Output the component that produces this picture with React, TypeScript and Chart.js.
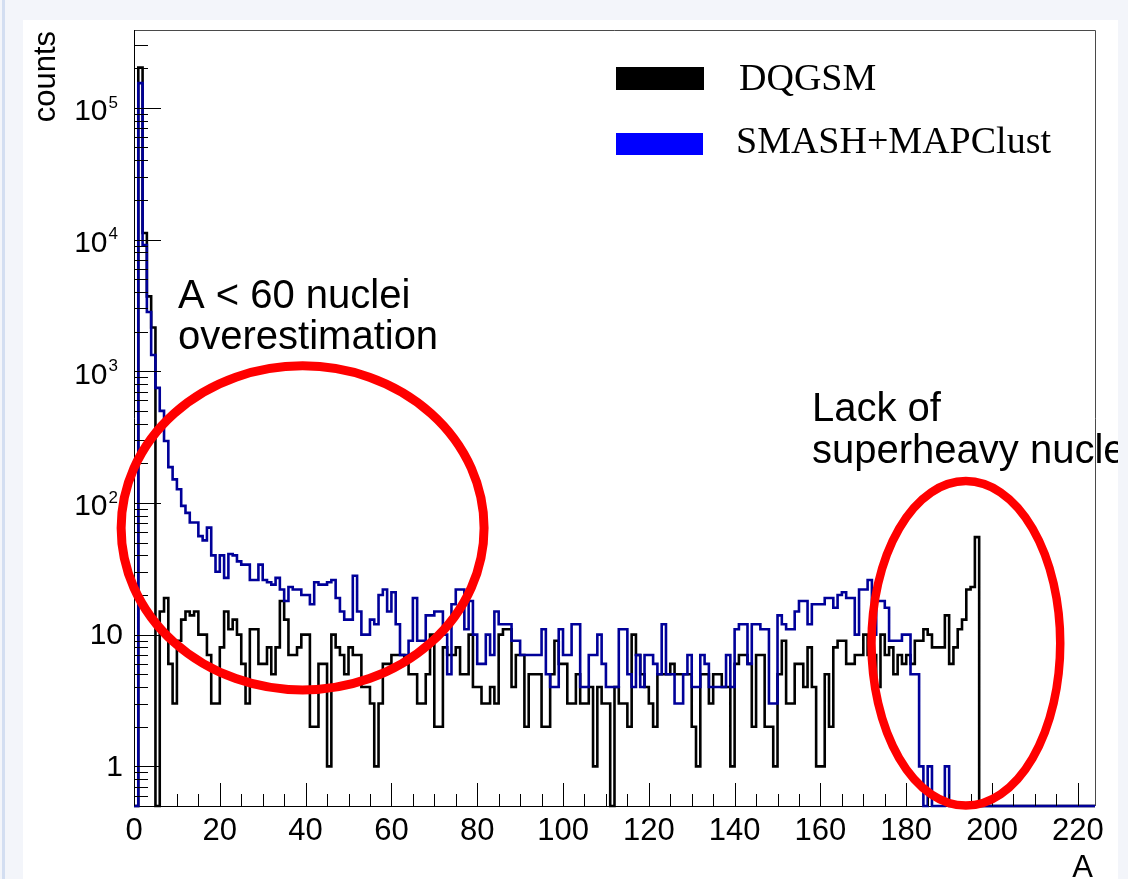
import React, { useEffect, useRef } from "react";
import { Chart, registerables } from "chart.js";

Chart.register(...registerables);

// ---------------- data ----------------
const BIN_LOW = 0; // lower edge of first bin (A)
const BIN_WIDTH = 1; // bin width (A)
const X_MIN = 0;
const X_MAX = 224;
const Y_MIN = 0.5;
const Y_MAX = 3.9e5;

// DQGSM counts per bin of A (bins [0,1), [1,2), ...)
const dqgsmCounts = [
  0, 202000, 11200, 3700, 2150, 0, 15, 19, 6, 3,
  9, 13, 15, 14, 15, 10, 10, 7, 3, 3,
  8, 15, 11, 13, 10, 6, 3, 11, 11, 6,
  6, 8, 5, 8, 18, 13, 7, 7, 8, 10,
  10, 2, 2, 6, 6, 1, 10, 8, 7, 5,
  8, 7, 7, 4, 4, 3, 1, 3, 6, 6,
  7, 7, 7, 6, 5, 5, 3, 3, 5, 10,
  2, 2, 8, 7, 7, 8, 5, 5, 10, 4,
  4, 3, 3, 4, 3, 10, 11, 11, 4, 7,
  7, 2, 5, 5, 5, 2, 2, 5, 9, 6,
  6, 3, 3, 5, 3, 3, 4, 1, 4, 3,
  3, 0, 4, 3, 3, 2, 10, 7, 5, 4,
  3, 2, 5, 5, 5, 6, 5, 5, 5, 5,
  2, 1, 5, 5, 3, 5, 5, 4, 4, 1,
  6, 7, 7, 6, 2, 7, 7, 2, 2, 1,
  5, 9, 3, 3, 6, 6, 4, 8, 4, 1,
  1, 5, 2, 8, 9, 9, 6, 6, 7, 7,
  10, 7, 7, 4, 10, 7, 8, 5, 7, 6,
  7, 6, 9, 9, 11, 10, 8, 8, 8, 14,
  6, 8, 11, 13, 22, 23, 55, 0, 0, 0,
  0, 0, 0, 0, 0, 0, 0, 0, 0, 0,
  0, 0, 0, 0, 0, 0, 0, 0, 0, 0,
  0, 0, 0, 0,
];

// SMASH+MAPClust counts per bin of A
const smashCounts = [
  0, 154000, 9100, 2820, 1330, 748, 500, 295, 187, 151,
  127, 95, 84, 71, 71, 56, 52, 65, 40, 30,
  40, 27, 41, 40, 36, 34, 34, 26, 26, 34,
  26, 25, 24, 27, 22, 18, 23, 22, 22, 20,
  20, 17, 25, 24, 24, 25, 26, 19, 15, 13,
  13, 28, 15, 10, 10, 13, 12, 20, 22, 15,
  21, 12, 7, 7, 9, 19, 9, 9, 14, 14,
  15, 15, 10, 5, 17, 22, 22, 11, 18, 10,
  6, 6, 10, 7, 15, 12, 12, 12, 9, 9,
  7, 7, 7, 7, 7, 11, 5, 4, 4, 11,
  7, 7, 12, 12, 4, 4, 7, 7, 10, 6,
  4, 4, 4, 11, 11, 5, 4, 7, 4, 7,
  7, 6, 5, 12, 5, 5, 3, 3, 5, 7,
  4, 4, 7, 6, 4, 4, 4, 4, 7, 4,
  11, 12, 12, 6, 12, 12, 11, 11, 3, 3,
  14, 12, 11, 11, 15, 18, 18, 12, 17, 17,
  17, 19, 19, 16, 20, 21, 19, 19, 10, 22,
  22, 26, 10, 18, 18, 16, 9, 9, 9, 10,
  10, 5, 5, 1, 0, 1, 0, 0, 0, 1,
  0, 0, 0, 0, 0, 0, 0, 0, 0, 0,
  0, 0, 0, 0, 0, 0, 0, 0, 0, 0,
  0, 0, 0, 0, 0, 0, 0, 0, 0, 0,
  0, 0, 0, 0,
];

const xMajorTicks = [0, 20, 40, 60, 80, 100, 120, 140, 160, 180, 200, 220];
const xMinorStep = 5;
const yMajorTicks = [1, 10, 100, 1000, 10000, 100000];
const yTickBase = ["1", "10", "10", "10", "10", "10"];
const yTickExp = ["", "", "2", "3", "4", "5"];
const seriesNames = ["DQGSM", "SMASH+MAPClust"];
const xTitle = "A";
const yTitle = "counts";
const noteLow = ["A < 60 nuclei", "overestimation"];
const noteHigh = ["Lack of", "superheavy nuclei"];
// highlighted regions (A range, counts range)
const regionLowA = [-3, 81.6];
const regionLowCounts = [3.8, 1100];
const regionHighA = [171.9, 215.9];
const regionHighCounts = [0.504, 146.5];

// ---------------- helpers ----------------
const histPoints = (counts: number[]) => {
  const pts: { x: number; y: number }[] = [];
  counts.forEach((c, i) => {
    const lo = BIN_LOW + i * BIN_WIDTH;
    const hi = lo + BIN_WIDTH;
    const y = c > 0 ? c : Y_MIN;
    pts.push({ x: lo, y }, { x: hi, y });
  });
  return pts;
};

const SANS = '"Liberation Sans", Arial, Helvetica, sans-serif';
const SERIF = '"Liberation Serif", "Times New Roman", serif';

const rootStyle = {
  id: "rootStyle",
  beforeDatasetsDraw(chart: any) {
    const { ctx, chartArea: a } = chart;
    ctx.save();
    ctx.lineWidth = 1;
    ctx.strokeStyle = "#4a4a4a";
    ctx.beginPath();
    ctx.moveTo(a.left, a.top + 0.5);
    ctx.lineTo(a.right + 0.5, a.top + 0.5);
    ctx.lineTo(a.right + 0.5, a.bottom);
    ctx.stroke();
    ctx.strokeStyle = "#000";
    ctx.beginPath();
    ctx.moveTo(a.left + 0.5, a.top);
    ctx.lineTo(a.left + 0.5, a.bottom + 0.5);
    ctx.lineTo(a.right, a.bottom + 0.5);
    ctx.stroke();
    ctx.restore();
  },
  afterDatasetsDraw(chart: any) {
    const { ctx, chartArea: a } = chart;
    const xs = chart.scales.x;
    const ys = chart.scales.y;
    ctx.save();

    // ---- ticks ----
    ctx.strokeStyle = "#000";
    ctx.lineWidth = 1;
    ctx.beginPath();
    for (let v = X_MIN; v <= X_MAX; v += xMinorStep) {
      const px = Math.round(xs.getPixelForValue(v)) + 0.5;
      const len = xMajorTicks.includes(v) ? 23 : 12;
      ctx.moveTo(px, a.bottom);
      ctx.lineTo(px, a.bottom - len);
    }
    for (let d = 0.1; d <= Y_MAX; d *= 10) {
      for (let m = 1; m <= 9; m++) {
        const v = m * d;
        if (v < Y_MIN * 1.0001 || v > Y_MAX) continue;
        const py = Math.round(ys.getPixelForValue(v)) + 0.5;
        const len = m === 1 ? 27 : 14;
        ctx.moveTo(a.left, py);
        ctx.lineTo(a.left + len, py);
      }
    }
    ctx.stroke();

    // ---- tick labels ----
    ctx.fillStyle = "#000";
    ctx.font = `31px ${SANS}`;
    ctx.textAlign = "center";
    ctx.textBaseline = "alphabetic";
    xMajorTicks.forEach((v) => {
      ctx.fillText(String(v), xs.getPixelForValue(v), a.bottom + 34);
    });
    yMajorTicks.forEach((v, i) => {
      const py = ys.getPixelForValue(v);
      ctx.textBaseline = "middle";
      ctx.textAlign = "right";
      if (yTickExp[i]) {
        ctx.font = `17px ${SANS}`;
        const ew = ctx.measureText(yTickExp[i]).width;
        const right = a.left - 16;
        ctx.fillText(yTickExp[i], right, py - 5);
        ctx.font = `30px ${SANS}`;
        ctx.fillText(yTickBase[i], right - ew - 1, py + 4);
      } else {
        ctx.font = `30px ${SANS}`;
        ctx.fillText(yTickBase[i], a.left - 11, py + 1);
      }
    });

    // ---- axis titles ----
    ctx.font = `31px ${SANS}`;
    ctx.textBaseline = "alphabetic";
    ctx.textAlign = "right";
    ctx.fillText(xTitle, a.right - 2, a.bottom + 71);
    ctx.save();
    ctx.translate(a.left - 79, a.top + 1);
    ctx.rotate(-Math.PI / 2);
    ctx.textAlign = "right";
    ctx.fillText(yTitle, 0, 0);
    ctx.restore();

    // ---- highlighted regions ----
    const ellipse = (ar: number[], cr: number[], w: number) => {
      const x0 = xs.getPixelForValue(ar[0]);
      const x1 = xs.getPixelForValue(ar[1]);
      const y0 = ys.getPixelForValue(cr[0]);
      const y1 = ys.getPixelForValue(cr[1]);
      ctx.beginPath();
      ctx.ellipse((x0 + x1) / 2, (y0 + y1) / 2, Math.abs(x1 - x0) / 2, Math.abs(y0 - y1) / 2, 0, 0, Math.PI * 2);
      ctx.lineWidth = w;
      ctx.strokeStyle = "#ff0000";
      ctx.stroke();
    };
    ellipse(regionLowA, regionLowCounts, 9);
    ellipse(regionHighA, regionHighCounts, 8.5);

    // ---- notes ----
    ctx.fillStyle = "#000";
    ctx.font = `40px ${SANS}`;
    ctx.textAlign = "left";
    ctx.textBaseline = "alphabetic";
    ctx.fillText(noteLow[0], a.left + 44, 288);
    ctx.fillText(noteLow[1], a.left + 44, 329);
    ctx.fillText(noteHigh[0], 789, 401);
    ctx.fillText(noteHigh[1], 789, 443);

    // ---- legend ----
    ctx.fillStyle = "#000000";
    ctx.fillRect(593, 47, 88, 23);
    ctx.fillStyle = "#0000ff";
    ctx.fillRect(593, 113, 87, 22);
    ctx.fillStyle = "#000";
    ctx.font = `38px ${SERIF}`;
    ctx.fillText(seriesNames[0], 716, 70);
    ctx.fillText(seriesNames[1], 713, 133);

    ctx.restore();
  },
};

export default function App() {
  const ref = useRef<HTMLCanvasElement>(null);
  useEffect(() => {
    if (!ref.current) return;
    const chart = new Chart(ref.current, {
      type: "line",
      data: {
        datasets: [
          {
            label: seriesNames[1],
            data: histPoints(smashCounts),
            borderColor: "#000099",
            borderWidth: 2.6,
            pointRadius: 0,
            fill: false,
            tension: 0,
            order: 0,
            clip: { left: 0, top: 0, right: 0, bottom: 2 } as any,
          },
          {
            label: seriesNames[0],
            data: histPoints(dqgsmCounts),
            borderColor: "#000000",
            borderWidth: 2.6,
            pointRadius: 0,
            fill: false,
            tension: 0,
            order: 1,
            clip: { left: 0, top: 0, right: 0, bottom: 2 } as any,
          },
        ],
      },
      options: {
        animation: false,
        responsive: false,
        maintainAspectRatio: false,
        devicePixelRatio: 1,
        events: [],
        layout: { padding: { left: 111, right: 23, top: 10, bottom: 73 } },
        scales: {
          x: { type: "linear", min: X_MIN, max: X_MAX, display: false },
          y: { type: "logarithmic", min: Y_MIN, max: Y_MAX, display: false },
        },
        plugins: { legend: { display: false }, tooltip: { enabled: false } },
      },
      plugins: [rootStyle],
    } as any);
    return () => chart.destroy();
  }, []);

  return (
    <div
      style={{
        position: "fixed",
        left: 0,
        top: 0,
        width: 1128,
        height: 879,
        background: "#f3f5fa",
        overflow: "hidden",
      }}
    >
      <div style={{ position: "absolute", left: 2, top: 0, width: 3, height: 879, background: "#d3def1" }} />
      <div style={{ position: "absolute", left: 23, top: 20, width: 1095, height: 859, background: "#ffffff" }}>
        <canvas ref={ref} width={1095} height={859} style={{ display: "block", width: 1095, height: 859 }} />
      </div>
    </div>
  );
}
